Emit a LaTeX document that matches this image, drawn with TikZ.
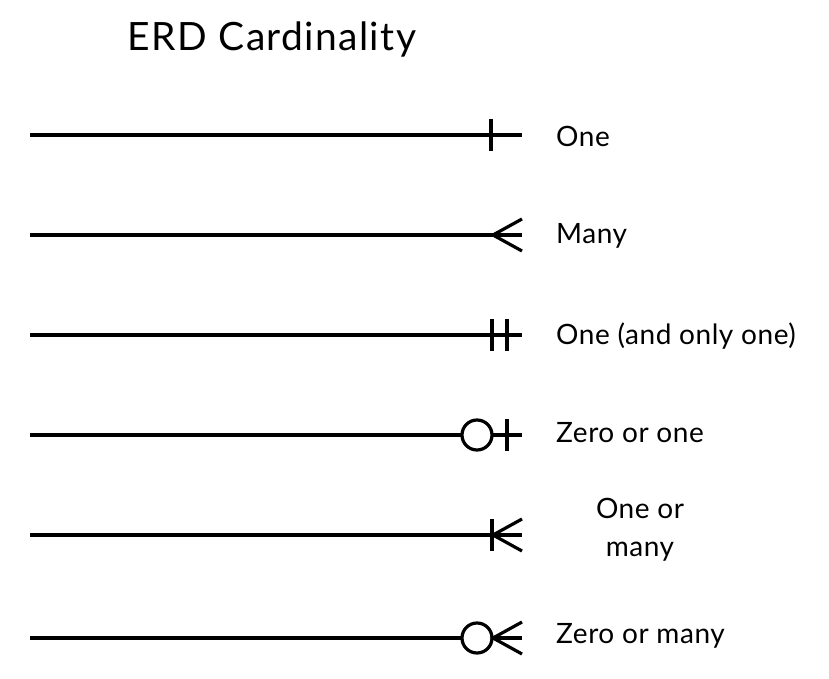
\documentclass[tikz,border=0pt]{standalone}
\usepackage{fontspec}
\setmainfont{Lato}
\newfontfamily\lblfont[LetterSpace=2]{Lato}
\newfontfamily\ttlfont[LetterSpace=3.5]{Lato}
\begin{document}
\begin{tikzpicture}[x=1pt,y=-1pt,
  rel/.style={line width=3.2pt, line cap=butt},
  lbl/.style={anchor=west, inner sep=0pt, font=\lblfont\fontsize{28}{38}\selectfont},
  ttl/.style={inner sep=0pt, font=\ttlfont\fontsize{39}{46}\selectfont}]
\useasboundingbox[fill=white] (0,0) rectangle (829,679);
\node[ttl] (title) at (272,39) {ERD Cardinality};
% row 1: One
\coordinate (s1) at (30,135); \coordinate (e1) at (522,135);
\draw[rel] (s1) -- (e1);
\draw[rel] (491,119) -- (491,151);
\node[lbl] (l1) at (556,136) {One};
% row 2: Many
\coordinate (s2) at (30,235); \coordinate (e2) at (522,235);
\draw[rel] (s2) -- (e2);
\draw[rel, line join=miter] (522,219) -- (493,235) -- (522,251);
\node[lbl] (l2) at (556,236) {Many};
% row 3: One and only one
\coordinate (s3) at (30,335); \coordinate (e3) at (522,335);
\draw[rel] (s3) -- (e3);
\draw[rel] (492,319) -- (492,351);
\draw[rel] (507,319) -- (507,351);
\node[lbl] (l3) at (556,336) {One (and only one)};
% row 4: Zero or one
\coordinate (s4) at (30,435); \coordinate (e4) at (522,435);
\draw[rel] (s4) -- (462,435);
\draw[rel] (492,435) -- (e4);
\draw[rel] (477,435) circle (15);
\draw[rel] (507,419) -- (507,451);
\node[lbl] (l4) at (556,433) {Zero or one};
% row 5: One or many
\coordinate (s5) at (30,535); \coordinate (e5) at (522,535);
\draw[rel] (s5) -- (e5);
\draw[rel] (492,519) -- (492,551);
\draw[rel, line join=miter] (522,519) -- (493,535) -- (522,551);
\node[lbl, anchor=center, align=center] (l5) at (640,530) {One or\\many};
% row 6: Zero or many
\coordinate (s6) at (30,638); \coordinate (e6) at (522,638);
\draw[rel] (s6) -- (462,638);
\draw[rel] (492,638) -- (e6);
\draw[rel] (477,638) circle (15);
\draw[rel, line join=miter] (522,622) -- (493,638) -- (522,654);
\node[lbl] (l6) at (556,636) {Zero or many};
\end{tikzpicture}
\end{document}
